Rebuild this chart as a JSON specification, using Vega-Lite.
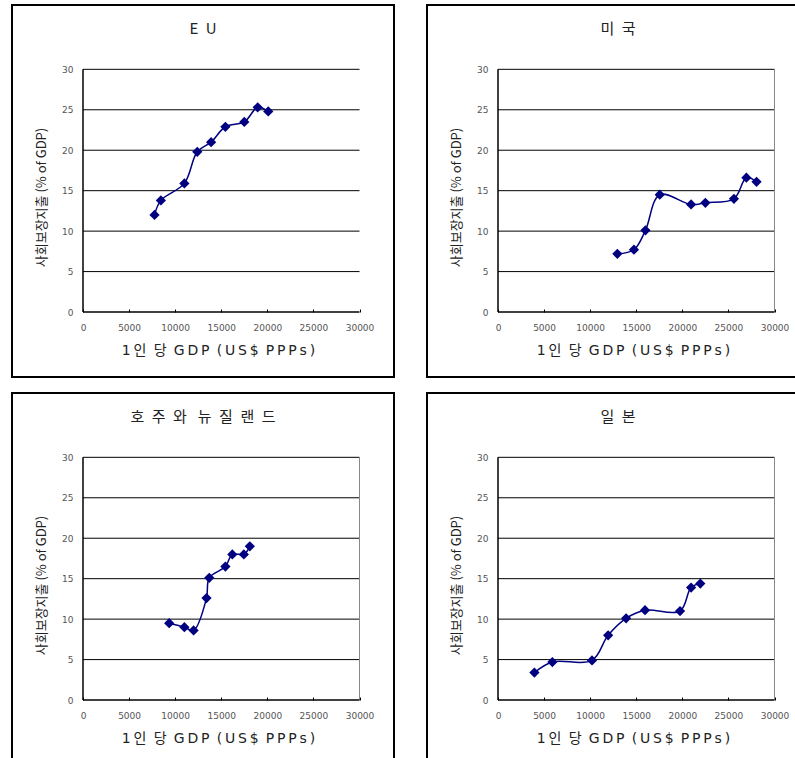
{
  "$schema": "https://vega.github.io/schema/vega-lite/v6.json",
  "background": "white",
  "padding": {"left": 11, "top": 4, "right": 0, "bottom": 0},
  "autosize": {"type": "pad"},
  "config": {
    "view": {"stroke": "#000", "strokeWidth": 2},
    "concat": {"spacing": 31},
    "title": {"font": "Noto Sans CJK KR", "fontSize": 15, "fontWeight": "normal", "color": "#222", "anchor": "middle", "frame": "group", "offset": -32},
    "axis": {
      "domain": false, "grid": false,
      "labelFont": "DejaVu Sans", "labelFontSize": 9, "labelColor": "#555",
      "titleFont": "DejaVu Sans, Noto Sans CJK KR", "titleFontWeight": "normal", "titleColor": "#222",
      "labelFlush": false, "labelOverlap": false
    }
  },
  "datasets": {
    "grid": [{"v": 5}, {"v": 10}, {"v": 15}, {"v": 20}, {"v": 25}, {"v": 30}],
    "eu": [
      {"gdp": 7760, "pct": 12.0}, {"gdp": 8450, "pct": 13.8}, {"gdp": 11000, "pct": 15.9},
      {"gdp": 12400, "pct": 19.8}, {"gdp": 13900, "pct": 21.0}, {"gdp": 15450, "pct": 22.9},
      {"gdp": 17500, "pct": 23.5}, {"gdp": 18950, "pct": 25.3}, {"gdp": 20100, "pct": 24.8}
    ],
    "us": [
      {"gdp": 12950, "pct": 7.2}, {"gdp": 14750, "pct": 7.7}, {"gdp": 16000, "pct": 10.1},
      {"gdp": 17550, "pct": 14.5}, {"gdp": 20950, "pct": 13.3}, {"gdp": 22500, "pct": 13.5},
      {"gdp": 25600, "pct": 14.0}, {"gdp": 26950, "pct": 16.6}, {"gdp": 28050, "pct": 16.1}
    ],
    "au": [
      {"gdp": 9350, "pct": 9.5}, {"gdp": 11000, "pct": 9.0}, {"gdp": 12000, "pct": 8.6},
      {"gdp": 13400, "pct": 12.6}, {"gdp": 13700, "pct": 15.1}, {"gdp": 15450, "pct": 16.5},
      {"gdp": 16200, "pct": 18.0}, {"gdp": 17450, "pct": 18.0}, {"gdp": 18100, "pct": 19.0}
    ],
    "jp": [
      {"gdp": 3950, "pct": 3.4}, {"gdp": 5900, "pct": 4.7}, {"gdp": 10200, "pct": 4.9},
      {"gdp": 11950, "pct": 8.0}, {"gdp": 13900, "pct": 10.1}, {"gdp": 15950, "pct": 11.1},
      {"gdp": 19750, "pct": 11.0}, {"gdp": 20950, "pct": 13.9}, {"gdp": 21950, "pct": 14.4}
    ]
  },
  "vconcat": [
    {
      "hconcat": [
        {
          "width": 382, "height": 372,
          "title": {"text": "E\u2002U"},
          "layer": [
            {"data": {"name": "grid"}, "mark": {"type": "rule", "color": "#000", "strokeWidth": 1},
             "encoding": {
               "x": {"datum": 0, "type": "quantitative", "scale": {"domain": [-7703, 33743], "nice": false, "zero": false},
                     "axis": {"values": [0, 5000, 10000, 15000, 20000, 25000, 30000], "format": "d", "offset": -65, "ticks": true, "tickSize": -3, "tickColor": "#000", "labelPadding": 14,
                              "title": "1\u2009인\u2009 당\u2009 G\u2009D\u2009P\u2009 (\u2009U\u2009S\u2009$\u2009 P\u2009P\u2009P\u2009s\u2009)", "titleFontSize": 14, "titlePadding": 11, "titleX": 206}},
               "x2": {"datum": 30000},
               "y": {"field": "v", "type": "quantitative", "scale": {"domain": [-8.03, 37.95], "nice": false, "zero": false},
                     "axis": {"values": [0, 5, 10, 15, 20, 25, 30], "offset": -71, "ticks": false, "labelPadding": 10,
                              "title": "사회보장지출 (% of GDP)", "titleFont": "Noto Sans CJK KR", "titleFontSize": 13, "titlePadding": 13, "titleY": 192}}}},
            {"data": {"values": [{"v": 0}]}, "mark": {"type": "rule", "color": "#000", "strokeWidth": 1.5},
             "encoding": {"x": {"datum": 0, "type": "quantitative"}, "x2": {"datum": 30000}, "y": {"field": "v", "type": "quantitative"}}},
            {"data": {"values": [{"v": 0}]}, "mark": {"type": "rule", "color": "#000", "strokeWidth": 1.5},
             "encoding": {"x": {"field": "v", "type": "quantitative"}, "y": {"datum": 0, "type": "quantitative"}, "y2": {"datum": 30}}},
            {"data": {"name": "eu"},
             "mark": {"type": "line", "interpolate": "catmull-rom", "color": "#000080", "strokeWidth": 1.5},
             "encoding": {"x": {"field": "gdp", "type": "quantitative"}, "y": {"field": "pct", "type": "quantitative"}}},
            {"data": {"name": "eu"},
             "mark": {"type": "point", "shape": "diamond", "filled": true, "size": 105, "color": "#000080", "opacity": 1},
             "encoding": {"x": {"field": "gdp", "type": "quantitative"}, "y": {"field": "pct", "type": "quantitative"}}}
          ]
        },
        {
          "width": 382, "height": 372,
          "title": {"text": "미\u2002국"},
          "layer": [
            {"data": {"name": "grid"}, "mark": {"type": "rule", "color": "#000", "strokeWidth": 1},
             "encoding": {
               "x": {"datum": 0, "type": "quantitative", "scale": {"domain": [-7703, 33743], "nice": false, "zero": false},
                     "axis": {"values": [0, 5000, 10000, 15000, 20000, 25000, 30000], "format": "d", "offset": -65, "ticks": true, "tickSize": -3, "tickColor": "#000", "labelPadding": 14,
                              "title": "1\u2009인\u2009 당\u2009 G\u2009D\u2009P\u2009 (\u2009U\u2009S\u2009$\u2009 P\u2009P\u2009P\u2009s\u2009)", "titleFontSize": 14, "titlePadding": 11, "titleX": 206}},
               "x2": {"datum": 30000},
               "y": {"field": "v", "type": "quantitative", "scale": {"domain": [-8.03, 37.95], "nice": false, "zero": false},
                     "axis": {"values": [0, 5, 10, 15, 20, 25, 30], "offset": -71, "ticks": false, "labelPadding": 10,
                              "title": "사회보장지출 (% of GDP)", "titleFont": "Noto Sans CJK KR", "titleFontSize": 13, "titlePadding": 13, "titleY": 192}}}},
            {"data": {"values": [{"v": 30000}]}, "mark": {"type": "rule", "color": "#888", "strokeWidth": 1},
             "encoding": {"x": {"field": "v", "type": "quantitative"}, "y": {"datum": 0, "type": "quantitative"}, "y2": {"datum": 30}}},
            {"data": {"values": [{"v": 0}]}, "mark": {"type": "rule", "color": "#000", "strokeWidth": 1.5},
             "encoding": {"x": {"datum": 0, "type": "quantitative"}, "x2": {"datum": 30000}, "y": {"field": "v", "type": "quantitative"}}},
            {"data": {"values": [{"v": 0}]}, "mark": {"type": "rule", "color": "#000", "strokeWidth": 1.5},
             "encoding": {"x": {"field": "v", "type": "quantitative"}, "y": {"datum": 0, "type": "quantitative"}, "y2": {"datum": 30}}},
            {"data": {"name": "us"},
             "mark": {"type": "line", "interpolate": "catmull-rom", "color": "#000080", "strokeWidth": 1.5},
             "encoding": {"x": {"field": "gdp", "type": "quantitative"}, "y": {"field": "pct", "type": "quantitative"}}},
            {"data": {"name": "us"},
             "mark": {"type": "point", "shape": "diamond", "filled": true, "size": 105, "color": "#000080", "opacity": 1},
             "encoding": {"x": {"field": "gdp", "type": "quantitative"}, "y": {"field": "pct", "type": "quantitative"}}}
          ]
        }
      ]
    },
    {
      "hconcat": [
        {
          "width": 382, "height": 372,
          "title": {"text": "호\u2002주\u2002와\u2002 뉴\u2002질\u2002랜\u2002드"},
          "layer": [
            {"data": {"name": "grid"}, "mark": {"type": "rule", "color": "#000", "strokeWidth": 1},
             "encoding": {
               "x": {"datum": 0, "type": "quantitative", "scale": {"domain": [-7703, 33743], "nice": false, "zero": false},
                     "axis": {"values": [0, 5000, 10000, 15000, 20000, 25000, 30000], "format": "d", "offset": -65, "ticks": true, "tickSize": -3, "tickColor": "#000", "labelPadding": 14,
                              "title": "1\u2009인\u2009 당\u2009 G\u2009D\u2009P\u2009 (\u2009U\u2009S\u2009$\u2009 P\u2009P\u2009P\u2009s\u2009)", "titleFontSize": 14, "titlePadding": 11, "titleX": 206}},
               "x2": {"datum": 30000},
               "y": {"field": "v", "type": "quantitative", "scale": {"domain": [-8.03, 37.95], "nice": false, "zero": false},
                     "axis": {"values": [0, 5, 10, 15, 20, 25, 30], "offset": -71, "ticks": false, "labelPadding": 10,
                              "title": "사회보장지출 (% of GDP)", "titleFont": "Noto Sans CJK KR", "titleFontSize": 13, "titlePadding": 13, "titleY": 192}}}},
            {"data": {"values": [{"v": 30000}]}, "mark": {"type": "rule", "color": "#888", "strokeWidth": 1},
             "encoding": {"x": {"field": "v", "type": "quantitative"}, "y": {"datum": 0, "type": "quantitative"}, "y2": {"datum": 30}}},
            {"data": {"values": [{"v": 0}]}, "mark": {"type": "rule", "color": "#000", "strokeWidth": 1.5},
             "encoding": {"x": {"datum": 0, "type": "quantitative"}, "x2": {"datum": 30000}, "y": {"field": "v", "type": "quantitative"}}},
            {"data": {"values": [{"v": 0}]}, "mark": {"type": "rule", "color": "#000", "strokeWidth": 1.5},
             "encoding": {"x": {"field": "v", "type": "quantitative"}, "y": {"datum": 0, "type": "quantitative"}, "y2": {"datum": 30}}},
            {"data": {"name": "au"},
             "mark": {"type": "line", "interpolate": "catmull-rom", "color": "#000080", "strokeWidth": 1.5},
             "encoding": {"x": {"field": "gdp", "type": "quantitative"}, "y": {"field": "pct", "type": "quantitative"}}},
            {"data": {"name": "au"},
             "mark": {"type": "point", "shape": "diamond", "filled": true, "size": 105, "color": "#000080", "opacity": 1},
             "encoding": {"x": {"field": "gdp", "type": "quantitative"}, "y": {"field": "pct", "type": "quantitative"}}}
          ]
        },
        {
          "width": 382, "height": 372,
          "title": {"text": "일\u2002본"},
          "layer": [
            {"data": {"name": "grid"}, "mark": {"type": "rule", "color": "#000", "strokeWidth": 1},
             "encoding": {
               "x": {"datum": 0, "type": "quantitative", "scale": {"domain": [-7703, 33743], "nice": false, "zero": false},
                     "axis": {"values": [0, 5000, 10000, 15000, 20000, 25000, 30000], "format": "d", "offset": -65, "ticks": true, "tickSize": -3, "tickColor": "#000", "labelPadding": 14,
                              "title": "1\u2009인\u2009 당\u2009 G\u2009D\u2009P\u2009 (\u2009U\u2009S\u2009$\u2009 P\u2009P\u2009P\u2009s\u2009)", "titleFontSize": 14, "titlePadding": 11, "titleX": 206}},
               "x2": {"datum": 30000},
               "y": {"field": "v", "type": "quantitative", "scale": {"domain": [-8.03, 37.95], "nice": false, "zero": false},
                     "axis": {"values": [0, 5, 10, 15, 20, 25, 30], "offset": -71, "ticks": false, "labelPadding": 10,
                              "title": "사회보장지출 (% of GDP)", "titleFont": "Noto Sans CJK KR", "titleFontSize": 13, "titlePadding": 13, "titleY": 192}}}},
            {"data": {"values": [{"v": 30000}]}, "mark": {"type": "rule", "color": "#888", "strokeWidth": 1},
             "encoding": {"x": {"field": "v", "type": "quantitative"}, "y": {"datum": 0, "type": "quantitative"}, "y2": {"datum": 30}}},
            {"data": {"values": [{"v": 0}]}, "mark": {"type": "rule", "color": "#000", "strokeWidth": 1.5},
             "encoding": {"x": {"datum": 0, "type": "quantitative"}, "x2": {"datum": 30000}, "y": {"field": "v", "type": "quantitative"}}},
            {"data": {"values": [{"v": 0}]}, "mark": {"type": "rule", "color": "#000", "strokeWidth": 1.5},
             "encoding": {"x": {"field": "v", "type": "quantitative"}, "y": {"datum": 0, "type": "quantitative"}, "y2": {"datum": 30}}},
            {"data": {"name": "jp"},
             "mark": {"type": "line", "interpolate": "catmull-rom", "color": "#000080", "strokeWidth": 1.5},
             "encoding": {"x": {"field": "gdp", "type": "quantitative"}, "y": {"field": "pct", "type": "quantitative"}}},
            {"data": {"name": "jp"},
             "mark": {"type": "point", "shape": "diamond", "filled": true, "size": 105, "color": "#000080", "opacity": 1},
             "encoding": {"x": {"field": "gdp", "type": "quantitative"}, "y": {"field": "pct", "type": "quantitative"}}}
          ]
        }
      ]
    }
  ],
  "spacing": 14
}
